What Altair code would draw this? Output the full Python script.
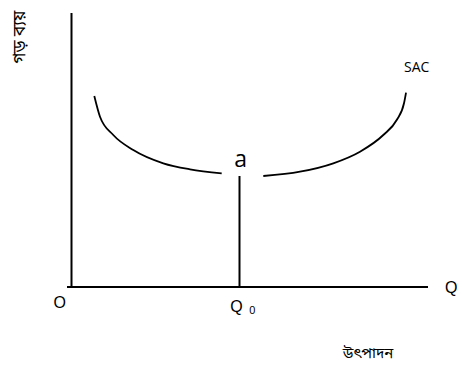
import altair as alt
import pandas as pd

# SAC curve (output, average cost) in diagram units; origin at the axes' corner
curve_segment = ["left"] * 7 + ["right"] * 8
curve_output = [22.8, 28.5, 41.8, 61.8, 91.8, 118.5, 150.2,
                191.8, 228.5, 261.8, 288.5, 311.8, 325.2, 332.5, 334.5]
curve_cost = [191.0, 170.3, 152.0, 137.0, 123.7, 117.7, 113.7,
              111.0, 115.3, 123.7, 135.3, 152.0, 167.0, 183.7, 194.3]

# axis lines and the Q0 drop line: (x, x2, y, y2)
line_names = ["y_axis", "x_axis", "q0_line"]
line_x = [0.0, -4.5, 168.0]
line_x2 = [0.0, 356.5, 168.0]
line_y = [0.0, 0.0, 0.0]
line_y2 = [274.0, 0.0, 111.0]

# labels
big_labels = ["O", "Q", "Q"]
big_x = [-11.8, 165.0, 373.5]
big_y = [-21.0, -25.0, -6.0]
big_align = ["center", "center", "left"]

sub_label = ["0"]
sub_x = [177.8]
sub_y = [-27.0]

point_label = ["a"]
point_x = [169.2]
point_y = [120.0]

curve_label = ["SAC"]
curve_label_x = [332.5]
curve_label_y = [214.7]

x_title = ["উৎপাদন"]
x_title_x = [296.5]
x_title_y = [-66.0]

y_title = ["গড় ব্যয়"]
y_title_x = [-51.5]
y_title_y = [250.0]

xs = alt.Scale(domain=[-63.5, 386.5], nice=False, zero=False)
ys = alt.Scale(domain=[-80, 279], nice=False, zero=False)

curve_df = pd.DataFrame({"seg": curve_segment, "q": curve_output, "c": curve_cost})
lines_df = pd.DataFrame({"name": line_names, "x": line_x, "x2": line_x2,
                         "y": line_y, "y2": line_y2})

def xy():
    return dict(x=alt.X("x:Q", scale=xs, axis=None),
                y=alt.Y("y:Q", scale=ys, axis=None))

curve = alt.Chart(curve_df).mark_line(
    color="black", strokeWidth=1.8, interpolate="monotone"
).encode(
    x=alt.X("q:Q", scale=xs, axis=None),
    y=alt.Y("c:Q", scale=ys, axis=None),
    detail="seg:N",
    order="q:Q",
)

rules = alt.Chart(lines_df).mark_rule(color="black", strokeWidth=2).encode(
    x=alt.X("x:Q", scale=xs, axis=None),
    x2="x2:Q",
    y=alt.Y("y:Q", scale=ys, axis=None),
    y2="y2:Q",
)

big_df = pd.DataFrame({"t": big_labels, "x": big_x, "y": big_y, "al": big_align})
big_center = alt.Chart(big_df[big_df.al == "center"]).mark_text(
    font="Liberation Sans", fontSize=16, align="center", baseline="alphabetic", color="black"
).encode(text="t:N", **xy())
big_left = alt.Chart(big_df[big_df.al == "left"]).mark_text(
    font="Liberation Sans", fontSize=16, align="left", baseline="alphabetic", color="black"
).encode(text="t:N", **xy())

sub = alt.Chart(pd.DataFrame({"t": sub_label, "x": sub_x, "y": sub_y})).mark_text(
    font="Liberation Sans", fontSize=11, align="left", baseline="alphabetic", color="black"
).encode(text="t:N", **xy())

pt = alt.Chart(pd.DataFrame({"t": point_label, "x": point_x, "y": point_y})).mark_text(
    font="Open Sans", fontSize=23, align="center", baseline="alphabetic", color="black"
).encode(text="t:N", **xy())

sac = alt.Chart(pd.DataFrame({"t": curve_label, "x": curve_label_x, "y": curve_label_y})).mark_text(
    font="Open Sans", fontSize=14, align="left", baseline="alphabetic", color="black"
).encode(text="t:N", **xy())

xt = alt.Chart(pd.DataFrame({"t": x_title, "x": x_title_x, "y": x_title_y})).mark_text(
    font="Noto Sans Bengali, Noto Sans, sans-serif", fontSize=15, align="center",
    baseline="middle", color="black"
).encode(text="t:N", **xy())

yt = alt.Chart(pd.DataFrame({"t": y_title, "x": y_title_x, "y": y_title_y})).mark_text(
    font="Noto Sans Bengali, Noto Sans, sans-serif", fontSize=17, align="center",
    baseline="middle", angle=270, color="black"
).encode(text="t:N", **xy())

chart = alt.layer(rules, curve, big_center, big_left, sub, pt, sac, xt, yt).properties(
    width=450, height=359,
    autosize=alt.AutoSizeParams(type="none"),
    padding=0,
    background="white",
).configure_view(stroke=None)

chart.save("out.html", embed_options={"renderer": "svg", "actions": False})
